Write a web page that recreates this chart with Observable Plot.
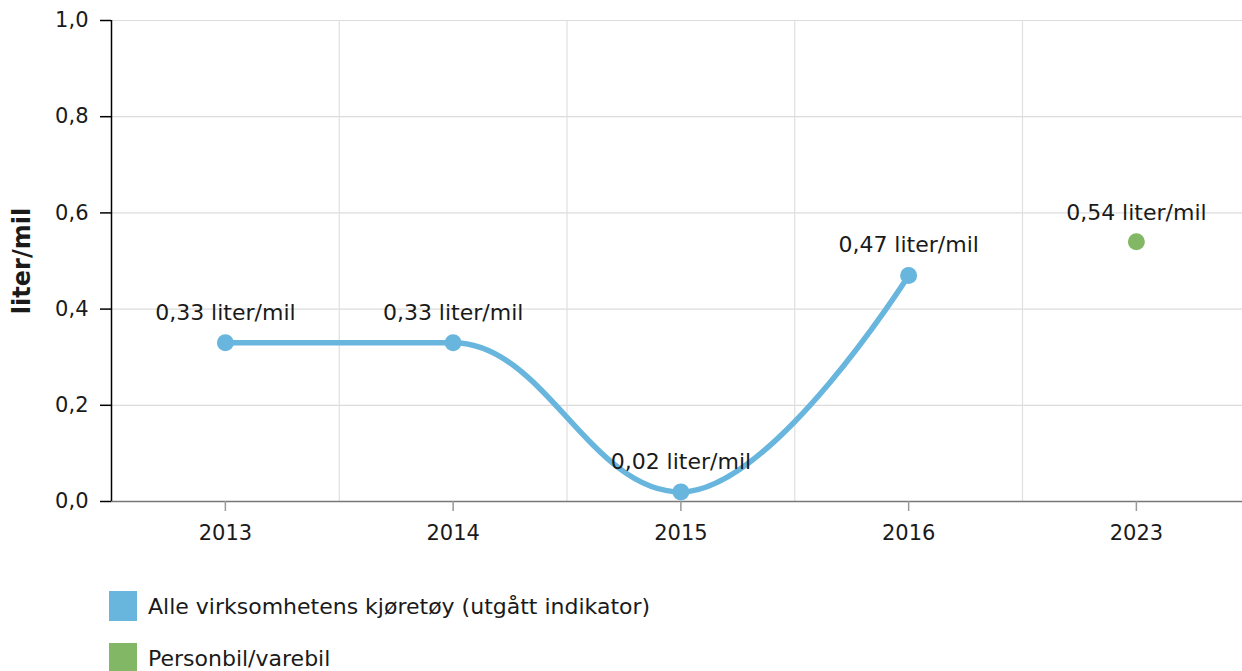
<!DOCTYPE html>
<html>
<head>
<meta charset="utf-8">
<script src="https://cdn.jsdelivr.net/npm/d3@7"></script>
<script src="https://cdn.jsdelivr.net/npm/@observablehq/plot@0.6"></script>
<style>
  html, body { margin: 0; padding: 0; background: #fff; overflow: hidden; }
  body { font-family: "DejaVu Sans", Verdana, sans-serif; width: 1242px; height: 671px; position: relative; }
  #chart { position: absolute; left: 0; top: 0; }
  .legend-item { position: absolute; left: 109px; display: flex; align-items: center; font-size: 22px; color: #1a1a1a; }
  .legend-item .sw { width: 28px; height: 30px; margin-right: 11px; }
</style>
</head>
<body>
<div id="chart"></div>
<div id="legend"></div>
<script>
const years = ["2013", "2014", "2015", "2016", "2023"];
const seriesNames = ["Alle virksomhetens kjøretøy (utgått indikator)", "Personbil/varebil"];
const seriesColors = ["#68b6dd", "#82b865"];
const allYears = ["2013", "2014", "2015", "2016"];
const allValues = [0.33, 0.33, 0.02, 0.47];
const carYears = ["2023"];
const carValues = [0.54];
const yTicks = [0, 0.2, 0.4, 0.6, 0.8, 1.0];
const yLabel = "liter/mil";

// Spline curve (smoothing 1.5, no false extremes), works on the scaled pixel points
function splineCurve(context) {
  let pts;
  return {
    areaStart() {}, areaEnd() {},
    lineStart() { pts = []; },
    point(x, y) { pts.push([+x, +y]); },
    lineEnd() {
      const n = pts.length;
      if (!n) return;
      const s = 1.5, den = s + 1;
      const L = [], R = [];
      for (let i = 1; i < n - 1; i++) {
        const [lx, ly] = pts[i - 1], [px, py] = pts[i], [nx, ny] = pts[i + 1];
        const lcx = (s * px + lx) / den, rcx = (s * px + nx) / den;
        let lcy = (s * py + ly) / den, rcy = (s * py + ny) / den;
        if (rcx !== lcx) {
          const c = ((rcy - lcy) * (rcx - px)) / (rcx - lcx) + py - rcy;
          lcy += c; rcy += c;
        }
        if (lcy > ly && lcy > py) { lcy = Math.max(ly, py); rcy = 2 * py - lcy; }
        else if (lcy < ly && lcy < py) { lcy = Math.min(ly, py); rcy = 2 * py - lcy; }
        if (rcy > ny && rcy > py) { rcy = Math.max(ny, py); lcy = 2 * py - rcy; }
        else if (rcy < ny && rcy < py) { rcy = Math.min(ny, py); lcy = 2 * py - rcy; }
        L[i] = [lcx, lcy]; R[i] = [rcx, rcy];
      }
      context.moveTo(pts[0][0], pts[0][1]);
      for (let i = 1; i < n; i++) {
        const c1 = R[i - 1] || pts[i - 1];
        const c2 = L[i] || pts[i];
        context.bezierCurveTo(c1[0], c1[1], c2[0], c2[1], pts[i][0], pts[i][1]);
      }
    }
  };
}

const fmt = v => v.toFixed(2).replace(".", ",") + " liter/mil";
const allData = allYears.map((y, i) => ({year: y, value: allValues[i]}));
const carData = carYears.map((y, i) => ({year: y, value: carValues[i]}));
const xi = d => years.indexOf(d.year);
const bounds = years.slice(1).map((_, i) => i + 0.5);

const chart = Plot.plot({
  width: 1242,
  height: 575,
  marginTop: 20,
  marginBottom: 74,
  marginLeft: 111,
  marginRight: 0,
  style: {fontFamily: "DejaVu Sans, Verdana, sans-serif", fontSize: "21px", color: "#1a1a1a", background: "#fff"},
  x: {type: "linear", domain: [-0.5, years.length - 0.5], range: [111, 111 + 5 * 227.75]},
  y: {domain: [0, 1]},
  marks: [
    Plot.ruleY(yTicks.slice(1), {stroke: "#dcdcdc", strokeWidth: 1.2}),
    Plot.ruleX(bounds, {stroke: "#e0e0e0", strokeWidth: 1.2}),
    Plot.ruleY([0], {stroke: "#777", strokeWidth: 1.5}),
    Plot.ruleX([-0.5], {stroke: "#000", strokeWidth: 1.5}),
    Plot.axisY({ticks: yTicks, tickFormat: d => d.toFixed(1).replace(".", ","), tickSize: 11, tickPadding: 12, fontSize: 21, stroke: "#000", strokeWidth: 1.5, label: null}),
    Plot.axisX({ticks: d3.range(years.length), tickFormat: i => years[i], tickSize: 10, tickPadding: 14, fontSize: 21, stroke: "#999", strokeWidth: 1.5, label: null}),
    Plot.text([yLabel], {frameAnchor: "left", textAnchor: "middle", dx: -89, rotate: -90, fontWeight: "bold", fontSize: 24}),
    Plot.line(allData, {x: xi, y: "value", stroke: seriesColors[0], strokeWidth: 5.5, curve: splineCurve}),
    Plot.dot(allData, {x: xi, y: "value", r: 8.5, fill: seriesColors[0]}),
    Plot.dot(carData, {x: xi, y: "value", r: 8.5, fill: seriesColors[1]}),
    Plot.text(allData, {x: xi, y: "value", text: d => fmt(d.value), dy: -30, fontSize: 22, fill: "#1a1a1a"}),
    Plot.text(carData, {x: xi, y: "value", text: d => fmt(d.value), dy: -29, fontSize: 22, fill: "#1a1a1a"})
  ]
});
document.getElementById("chart").appendChild(chart);

const legend = document.getElementById("legend");
const tops = [591, 643];
seriesNames.forEach((name, i) => {
  const item = document.createElement("div");
  item.className = "legend-item";
  item.style.top = tops[i] + "px";
  const sw = document.createElement("div");
  sw.className = "sw";
  sw.style.background = seriesColors[i];
  const t = document.createElement("span");
  t.textContent = name;
  item.appendChild(sw);
  item.appendChild(t);
  legend.appendChild(item);
});
</script>
</body>
</html>
